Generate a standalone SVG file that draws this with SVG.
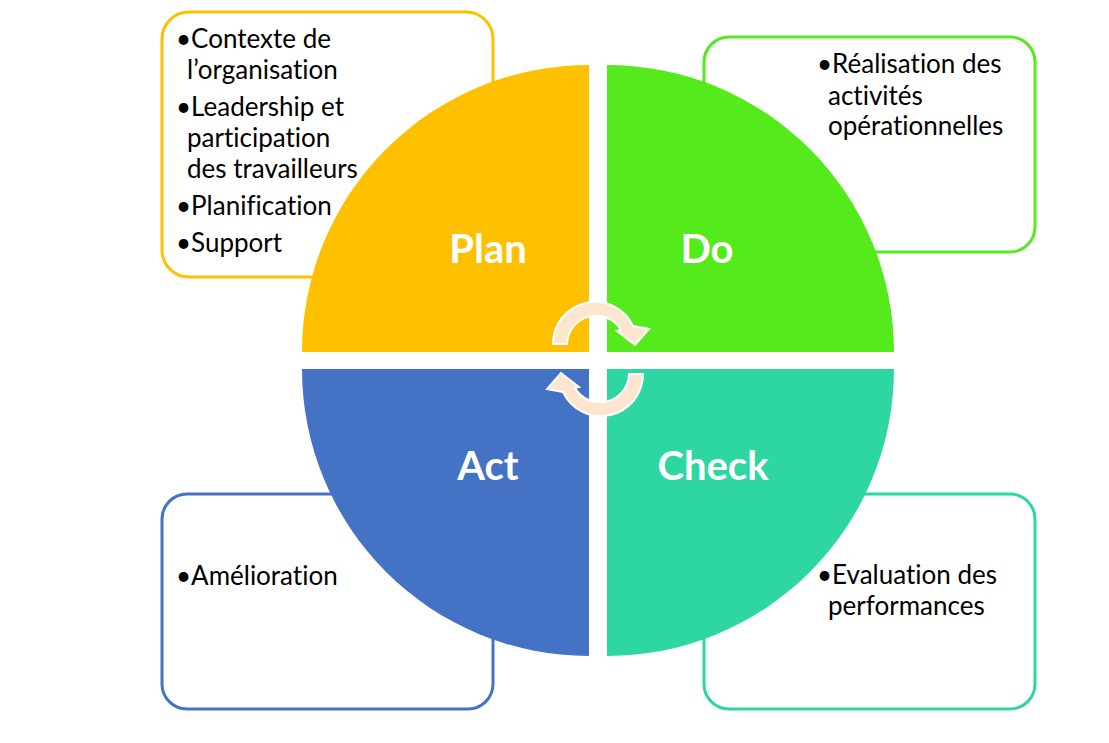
<svg xmlns="http://www.w3.org/2000/svg" width="1109" height="743" viewBox="0 0 1109 743">
<style>
.box{fill:#FFFFFF;stroke-width:3}
.t{font-family:Lato,"Liberation Sans",sans-serif;font-size:26px;fill:#000000;font-variant-ligatures:none;font-feature-settings:"liga" 0,"dlig" 0}
.h{font-family:Lato,"Liberation Sans",sans-serif;font-size:40px;font-weight:bold;fill:#FFFFFF;text-anchor:middle}
.arr{fill:#FCE6D0;stroke:#FFFFFF;stroke-width:2;stroke-linejoin:miter}
</style>
<rect width="1109" height="743" fill="#FFFFFF"/>
<g id="plan-box">
<rect class="box" x="162" y="12" width="331" height="265" rx="27" stroke="#FFC000"/>
<text class="t"><tspan x="176" y="48">•Contexte de</tspan><tspan x="187" y="79">l’organisation</tspan><tspan x="176" y="116">•Leadership et</tspan><tspan x="187" y="147">participation</tspan><tspan x="187" y="178">des travailleurs</tspan><tspan x="176" y="215">•Planification</tspan><tspan x="176" y="252">•Support</tspan></text>
</g>
<g id="do-box">
<rect class="box" x="704" y="37" width="331" height="215" rx="25" stroke="#55EA1B"/>
<text class="t"><tspan x="817" y="73">•Réalisation des</tspan><tspan x="828" y="105">activités</tspan><tspan x="828" y="135">opérationnelles</tspan></text>
</g>
<g id="act-box">
<rect class="box" x="162" y="494" width="331" height="215" rx="25" stroke="#4472C4"/>
<text class="t"><tspan x="176" y="585">•Amélioration</tspan></text>
</g>
<g id="check-box">
<rect class="box" x="704" y="494" width="331" height="215" rx="25" stroke="#2ED6A2"/>
<text class="t"><tspan x="817" y="584">•Evaluation des</tspan><tspan x="828" y="615">performances</tspan></text>
</g>
<g id="plan">
<path d="M589,352 L302,352 A287,287 0 0 1 589,65 Z" fill="#FFC000"/>
<text class="h" x="488" y="263">Plan</text>
</g>
<g id="do">
<path d="M607,352 L607,65 A287,287 0 0 1 894,352 Z" fill="#55EA1B"/>
<text class="h" x="707" y="263">Do</text>
</g>
<g id="act">
<path d="M589,369 L302,369 A287,287 0 0 0 589,656 Z" fill="#4472C4"/>
<text class="h" x="488" y="480">Act</text>
</g>
<g id="check">
<path d="M607,369 L894,369 A287,287 0 0 1 607,656 Z" fill="#2ED6A2"/>
<text class="h" x="713" y="480">Check</text>
</g>
<g id="connectors">
<path id="arrow-top" class="arr" d="M553,344 A42,42 0 0 1 633,326 L649,329 L635,345 L617,331 L621,330 A29,29 0 0 0 567,344 Z"/>
<path id="arrow-bottom" class="arr" transform="rotate(180 598 359)" d="M553,344 A42,42 0 0 1 633,326 L649,329 L635,345 L617,331 L621,330 A29,29 0 0 0 567,344 Z"/>
</g>
</svg>
